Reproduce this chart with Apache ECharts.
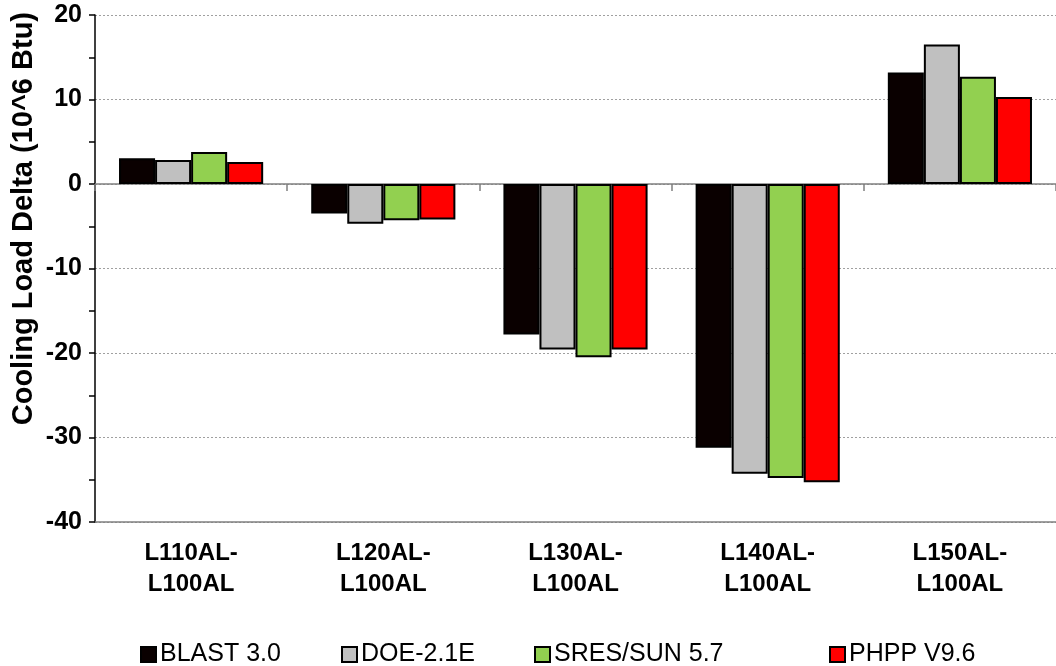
<!DOCTYPE html>
<html>
<head>
<meta charset="utf-8">
<script src="https://cdn.jsdelivr.net/npm/echarts@6/dist/echarts.min.js"></script>
<style>
  html, body { margin: 0; padding: 0; background: #fff; }
  #main { width: 1056px; height: 666px; }
</style>
</head>
<body>
<div id="main"></div>
<script>
// categories and series values (10^6 Btu)
const categories = ['L110AL-\nL100AL', 'L120AL-\nL100AL', 'L130AL-\nL100AL', 'L140AL-\nL100AL', 'L150AL-\nL100AL'];
const seriesNames = ['BLAST 3.0', 'DOE-2.1E', 'SRES/SUN 5.7', 'PHPP V9.6'];
const blast = [3.05, -3.5, -17.8, -31.2, 13.2];
const doe = [2.85, -4.7, -19.6, -34.3, 16.5];
const sres = [3.8, -4.3, -20.5, -34.8, 12.7];
const phpp = [2.6, -4.2, -19.6, -35.3, 10.3];
const colors = ['#0a0000', '#c0c0c0', '#92d050', '#ff0000'];
const legendLeft = [135, 336, 529, 824];

const font = 'Liberation Sans, Arial, sans-serif';
let myChart = echarts.init(document.getElementById('main'));

let allData = [blast, doe, sres, phpp];
let series = seriesNames.map(function (name, i) {
  return {
    name: name,
    type: 'bar',
    data: allData[i],
    barGap: '0%',
    barCategoryGap: '25%',
    itemStyle: { color: colors[i], borderColor: '#000', borderWidth: 2 }
  };
});

let option = {
  animation: false,
  textStyle: { fontFamily: font },
  legend: seriesNames.map(function (name, i) {
    return {
      data: [name],
      left: legendLeft[i],
      top: 637,
      itemWidth: 15,
      itemHeight: 15,
      itemGap: 6,
      icon: 'rect',
      itemStyle: { borderColor: '#000', borderWidth: 2 },
      textStyle: { fontFamily: font, fontSize: 25, color: '#000', padding: [0, 0, 0, -1] }
    };
  }),
  // y axis title, rotated, as in the original
  graphic: [{
    type: 'text',
    left: 9,
    top: 12,
    rotation: Math.PI / 2,
    style: {
      text: 'Cooling Load Delta (10^6 Btu)',
      font: 'bold 29px ' + font,
      fill: '#000'
    }
  }],
  grid: { left: 95, right: 0, top: 15, bottom: 144, outerBoundsMode: 'none' },
  xAxis: [
    {
      type: 'category',
      data: categories,
      position: 'top',
      axisLine: { onZero: true, lineStyle: { color: '#808080', width: 1.5 } },
      axisTick: { show: true, inside: true, length: 7, lineStyle: { color: '#808080', width: 1.5 } },
      axisLabel: { show: false },
      splitLine: { show: false }
    },
    {
      type: 'category',
      data: categories,
      position: 'bottom',
      axisLine: { onZero: false, lineStyle: { color: '#808080', width: 1.5 } },
      axisTick: { show: false },
      axisLabel: {
        margin: 16,
        fontFamily: font,
        fontWeight: 'bold',
        fontSize: 24,
        lineHeight: 31,
        color: '#000'
      }
    }
  ],
  yAxis: {
    type: 'value',
    min: -40,
    max: 20,
    interval: 10,
    axisLine: { show: true, lineStyle: { color: '#000', width: 1.5 } },
    axisTick: { show: true, length: 6, lineStyle: { color: '#000', width: 1.5 } },
    minorTick: { show: true, splitNumber: 2, length: 6, lineStyle: { color: '#000', width: 1.5 } },
    axisLabel: {
      margin: 13,
      fontFamily: font,
      fontWeight: 'bold',
      fontSize: 25,
      color: '#000'
    },
    splitLine: { show: true, lineStyle: { color: '#a0a0a0', type: [2, 2], width: 1 } }
  },
  series: series
};
myChart.setOption(option);
</script>
</body>
</html>
